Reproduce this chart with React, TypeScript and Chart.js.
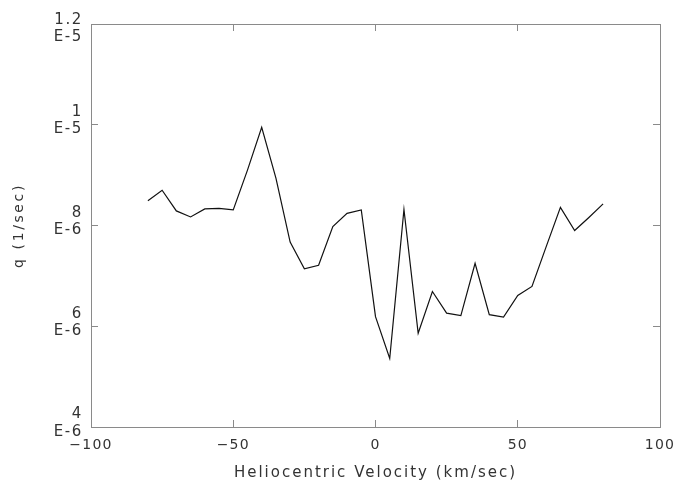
import React, { useEffect, useRef } from "react";
import { Chart, registerables } from "chart.js";

Chart.register(...registerables);

// Heliocentric velocity (km/sec)
const velocities = [
  -80, -75, -70, -65, -60, -55, -50, -45, -40, -35, -30, -25, -20, -15, -10, -5,
  0, 5, 10, 15, 20, 25, 30, 35, 40, 45, 50, 55, 60, 65, 70, 75, 80,
];

// g (1/sec)
const gValues = [
  8.49e-6, 8.7e-6, 8.29e-6, 8.17e-6, 8.33e-6, 8.34e-6, 8.31e-6, 9.1e-6, 9.95e-6,
  8.94e-6, 7.67e-6, 7.14e-6, 7.21e-6, 7.98e-6, 8.24e-6, 8.31e-6, 6.19e-6, 5.36e-6,
  8.32e-6, 5.86e-6, 6.69e-6, 6.26e-6, 6.21e-6, 7.25e-6, 6.23e-6, 6.18e-6, 6.61e-6,
  6.79e-6, 7.58e-6, 8.36e-6, 7.9e-6, 8.16e-6, 8.43e-6,
];

const xTitle = "Heliocentric Velocity (km/sec)";
const yTitle = "q (1/sec)";
const xRange = [-100, 100];
const yRange = [4e-6, 1.2e-5];
const xStep = 50;
const yStep = 2e-6;

const TEXT = "#333333";
const AXIS = "#8a8a8a";
const FONT = "'DejaVu Sans', sans-serif";

function formatE(v: number): string[] {
  const exp = Math.floor(Math.log10(v) + 1e-9);
  const mant = Math.round((v / Math.pow(10, exp)) * 100) / 100;
  return [String(mant), "E-" + String(-exp)];
}

function formatX(v: number): string {
  return v < 0 ? "\u2212" + String(Math.abs(v)) : String(v);
}

const spacing: Record<string, { title: string; labels: string }> = {
  x: { title: "2px", labels: "1.2px" },
  y: { title: "2.6px", labels: "1.6px" },
};

const letterSpacingPlugin = {
  id: "letterSpacing",
  beforeDraw(chart: any) {
    const ctx = chart.ctx;
    Object.keys(spacing).forEach((id) => {
      const scale = chart.scales[id];
      if (!scale || scale.__patched) return;
      const origTitle = scale.drawTitle;
      const origLabels = scale.drawLabels;
      scale.drawTitle = function (...args: any[]) {
        ctx.save();
        ctx.letterSpacing = spacing[id].title;
        origTitle.apply(scale, args);
        ctx.restore();
      };
      scale.drawLabels = function (...args: any[]) {
        ctx.save();
        ctx.letterSpacing = spacing[id].labels;
        origLabels.apply(scale, args);
        ctx.restore();
      };
      scale.__patched = true;
    });
  },
};

function fixSize(dim: "width" | "height", size: number) {
  return (scale: any) => {
    scale[dim] = size;
    scale.paddingLeft = 0;
    scale.paddingRight = 0;
    scale.paddingTop = 0;
    scale.paddingBottom = 0;
  };
}

const gridOpts = {
  drawOnChartArea: false,
  drawTicks: true,
  tickLength: -7,
  color: AXIS,
  lineWidth: 1,
};

const borderOpts = { display: true, color: AXIS, width: 1 };

export default function App() {
  const ref = useRef<HTMLCanvasElement>(null);

  useEffect(() => {
    document.body.style.margin = "0";
    if (!ref.current) return;
    const chart = new Chart(ref.current, {
      type: "line",
      data: {
        labels: velocities,
        datasets: [
          {
            data: velocities.map((v, i) => ({ x: v, y: gValues[i] })),
            borderColor: "#111111",
            borderWidth: 1.2,
            pointRadius: 0,
            tension: 0,
            fill: false,
          },
        ],
      },
      options: {
        animation: false,
        responsive: false,
        events: [],
        layout: { padding: { left: 0, right: 18, top: 24, bottom: 0 } },
        plugins: {
          legend: { display: false },
          tooltip: { enabled: false },
        },
        scales: {
          x: {
            type: "linear",
            position: "bottom",
            min: xRange[0],
            max: xRange[1],
            ticks: {
              stepSize: xStep,
              color: TEXT,
              font: { family: FONT, size: 14 },
              padding: 17,
              maxRotation: 0,
              autoSkip: false,
              callback: (v: any) => formatX(Number(v)),
            },
            grid: gridOpts,
            border: borderOpts,
            title: {
              display: true,
              text: xTitle,
              color: TEXT,
              font: { family: FONT, size: 15 },
              padding: { top: 0, bottom: 1 },
            },
            afterFit: fixSize("height", 56),
          },
          x2: {
            type: "linear",
            axis: "x",
            position: "top",
            min: xRange[0],
            max: xRange[1],
            ticks: { stepSize: xStep, display: false },
            grid: gridOpts,
            border: borderOpts,
            afterFit: fixSize("height", 0),
          },
          y: {
            type: "linear",
            position: "left",
            min: yRange[0],
            max: yRange[1],
            ticks: {
              stepSize: yStep,
              color: TEXT,
              font: { family: FONT, size: 15, lineHeight: 1.15 },
              padding: 15,
              labelOffset: -4,
              autoSkip: false,
              callback: (v: any, i: number, ticks: any[]) =>
                i === ticks.length - 1 ? ["", ...formatE(Number(v))] : formatE(Number(v)),
            },
            grid: gridOpts,
            border: borderOpts,
            title: {
              display: true,
              text: yTitle,
              color: TEXT,
              font: { family: FONT, size: 14 },
              padding: { top: 11, bottom: 0 },
            },
            afterFit: fixSize("width", 91),
          },
          y2: {
            type: "linear",
            axis: "y",
            position: "right",
            min: yRange[0],
            max: yRange[1],
            ticks: { stepSize: yStep, display: false },
            grid: gridOpts,
            border: borderOpts,
            afterFit: fixSize("width", 0),
          },
        },
      } as any,
      plugins: [letterSpacingPlugin],
    });
    return () => chart.destroy();
  }, []);

  return (
    <div style={{ width: 678, height: 483, background: "#ffffff" }}>
      <canvas ref={ref} width={678} height={483} style={{ display: "block" }} />
    </div>
  );
}
